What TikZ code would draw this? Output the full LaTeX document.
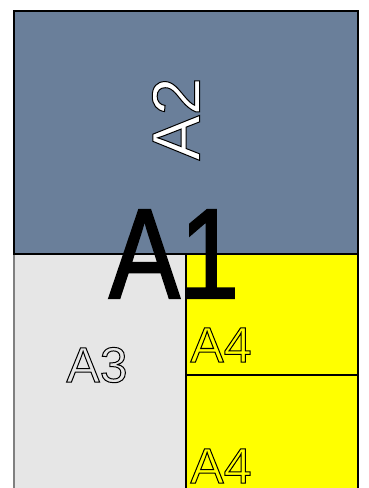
\documentclass[tikz,border=0pt]{standalone}
\usepackage{fontspec}
\setmainfont{Liberation Sans}
\definecolor{slate}{RGB}{106,127,154}
\definecolor{lightg}{RGB}{230,230,230}
\definecolor{ylw}{RGB}{255,255,0}
\newcommand\outlinetext[3]{{\color{#1}\special{pdf:literal direct 2 Tr #3 w 0 0 0 RG}#2\special{pdf:literal direct 0 Tr}}}
\tikzset{
  sheet/.style={line width=1.2pt},
  lbl/.style={inner sep=0pt, anchor=center}
}
\begin{document}
\begin{tikzpicture}[x=1pt,y=-1pt]
\useasboundingbox (0,0) rectangle (368,488);
\fill[white] (0,0) rectangle (368,488);
% A3
\fill[lightg] (14,254) rectangle (186,490);
\draw[gray,line width=1.2pt] (14,254) -- (14,490);
% A4 sheets
\fill[ylw] (186,254) rectangle (358,490);
\draw[sheet] (186,490) -- (186,254) -- (358,254) -- (358,490);
\draw[sheet] (186,375) -- (358,375);
% A2
\fill[slate] (14,11) rectangle (358,254);
\draw[sheet] (14,11) rectangle (358,254);
% labels
\node[lbl, rotate=90, font=\fontsize{68}{68}\selectfont] (a2) at (176,119) {\outlinetext{white}{A2}{1}};
\node[lbl, font=\fontsize{128}{128}\selectfont] (a1) at (174,254) {\scalebox{0.83}[1]{\outlinetext{black}{A1}{2.4}}};
\node[lbl, font=\fontsize{50}{50}\selectfont] (a3) at (97,365) {\outlinetext{lightg}{A3}{1}};
\node[lbl, font=\fontsize{50}{50}\selectfont] (a4a) at (221,345) {\outlinetext{ylw}{A4}{1}};
\node[lbl, font=\fontsize{50}{50}\selectfont] (a4b) at (221,466) {\outlinetext{ylw}{A4}{1}};
\end{tikzpicture}
\end{document}
